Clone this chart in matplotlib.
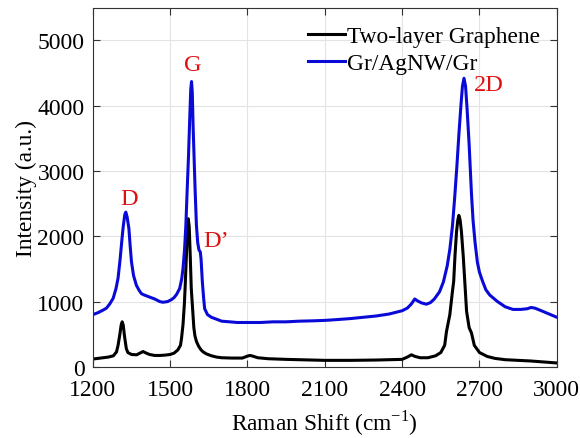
import matplotlib
matplotlib.use('Agg')
import matplotlib.pyplot as plt

plt.rcParams['font.family'] = ['Liberation Serif', 'DejaVu Serif']
plt.rcParams['mathtext.fontset'] = 'custom'
plt.rcParams['mathtext.rm'] = 'Liberation Serif'

# Gr/AgNW/Gr spectrum (blue)
blue_x = [1200, 1220, 1240, 1253, 1265, 1279, 1290, 1298, 1306, 1313, 1318, 1324, 1328,
          1333, 1340, 1345, 1350, 1358, 1369, 1380, 1389, 1400, 1420, 1440, 1460, 1472,
          1490, 1505, 1515, 1525, 1537, 1545, 1550, 1556, 1561, 1566, 1571, 1576, 1580,
          1583, 1586, 1589, 1593, 1597, 1602, 1607, 1612, 1617, 1620, 1625, 1630, 1634,
          1645, 1660, 1680, 1700, 1731, 1760, 1800, 1850, 1900, 1950, 2000, 2050, 2100,
          2150, 2200, 2250, 2300, 2350, 2400, 2420, 2435, 2449, 2460, 2475, 2494, 2510,
          2525, 2545, 2560, 2575, 2585, 2595, 2604, 2612, 2620, 2628, 2634, 2640, 2646,
          2652, 2660, 2669, 2675, 2683, 2692, 2700, 2713, 2725, 2740, 2752, 2770, 2800,
          2830, 2860, 2885, 2900, 2915, 2940, 2970, 3000]
blue_y = [800, 830, 870, 900, 960, 1050, 1200, 1360, 1650, 1950, 2150, 2330, 2370,
          2300, 2120, 1850, 1610, 1400, 1250, 1170, 1120, 1100, 1070, 1040, 1000, 990,
          1000, 1030, 1060, 1110, 1200, 1350, 1510, 1800, 2170, 2700, 3200, 3800, 4250,
          4370, 4200, 3700, 3200, 2700, 2170, 1900, 1790, 1760, 1650, 1300, 1050, 890,
          800, 760, 730, 700, 690, 680, 680, 680, 690, 690, 700, 705, 712,
          725, 740, 760, 780, 810, 860, 900, 960, 1040, 1010, 980, 960, 985,
          1040, 1150, 1300, 1550, 1800, 2150, 2600, 3050, 3550, 4000, 4300, 4420, 4300,
          3950, 3400, 2650, 2250, 1900, 1600, 1450, 1300, 1180, 1100, 1060, 1000, 920,
          880, 880, 890, 910, 900, 860, 810, 760]

# Two-layer graphene spectrum (black)
black_x = [1200, 1230, 1260, 1280, 1292, 1298, 1305, 1310, 1314, 1318, 1323, 1330, 1336,
           1350, 1370, 1385, 1395, 1405, 1420, 1440, 1460, 1480, 1500, 1515, 1530, 1540,
           1544, 1550, 1555, 1558, 1562, 1566, 1570, 1574, 1578, 1582, 1587, 1592, 1596,
           1602, 1610, 1620, 1628, 1640, 1660, 1680, 1700, 1740, 1780, 1800, 1810, 1820,
           1840, 1880, 1950, 2000, 2100, 2200, 2300, 2400, 2420, 2436, 2450, 2470, 2500,
           2530, 2550, 2565, 2572, 2585, 2595, 2600, 2605, 2611, 2616, 2620, 2625, 2630,
           2637, 2643, 2650, 2660, 2669, 2680, 2700, 2730, 2760, 2800, 2850, 2900, 2950, 3000]
black_y = [120, 135, 150, 170, 230, 330, 500, 640, 690, 640, 470, 280, 220,
           190, 185, 215, 235, 215, 190, 175, 175, 180, 190, 210, 260, 330,
           430, 650, 950, 1200, 1600, 2000, 2270, 2150, 1700, 1200, 900, 600, 480,
           390, 320, 260, 230, 200, 170, 150, 140, 135, 135, 165, 175, 165,
           140, 125, 115, 110, 100, 100, 105, 115, 150, 185, 160, 140, 140,
           170, 220, 330, 540, 800, 1150, 1310, 1700, 2070, 2250, 2320, 2250, 2070,
           1700, 1310, 850, 600, 520, 330, 220, 160, 130, 110, 100, 90, 75, 60]

peak_names = ['D', 'G', 'D\u2019', '2D']
peak_x = [1340, 1588, 1677, 2736]
peak_y = [2585, 4630, 1938, 4323]

fig = plt.figure(figsize=(5.8, 4.39), dpi=100)
ax = fig.add_axes([0.160, 0.162, 0.800, 0.818])

ax.plot(black_x, black_y, color='black', lw=2.2, label='Two-layer Graphene')
ax.plot(blue_x, blue_y, color='#0a0ad8', lw=2.2, label='Gr/AgNW/Gr')

for name, px, py in zip(peak_names, peak_x, peak_y):
    ax.text(px, py, name, color='#e01010', fontsize=17.5, ha='center', va='center')

ax.set_xlim(1200, 3000)
ax.set_ylim(0, 5500)
ax.set_xticks([1200, 1500, 1800, 2100, 2400, 2700, 3000])
ax.set_yticks([0, 1000, 2000, 3000, 4000, 5000])
ax.tick_params(direction='in', top=True, right=True, labelsize=17, length=5, color='#333333')
ax.tick_params(axis='x', pad=9)
ax.tick_params(axis='y', pad=6)
ax.grid(True, color='#e3e3e3', lw=0.8)
for s in ax.spines.values():
    s.set_color('#333333')
    s.set_linewidth(0.8)

ax.set_xlabel('Raman Shift (cm$^{-1}$)', fontsize=16.8, labelpad=5)
ax.set_ylabel('Intensity (a.u.)', fontsize=16.8, labelpad=0)

ax.legend(loc='upper left', bbox_to_anchor=(0.463, 0.949), frameon=False, fontsize=16.8,
          handlelength=1.6, handletextpad=0.1, borderpad=0, borderaxespad=0, labelspacing=0.22)

plt.savefig('out.png', dpi=100)
